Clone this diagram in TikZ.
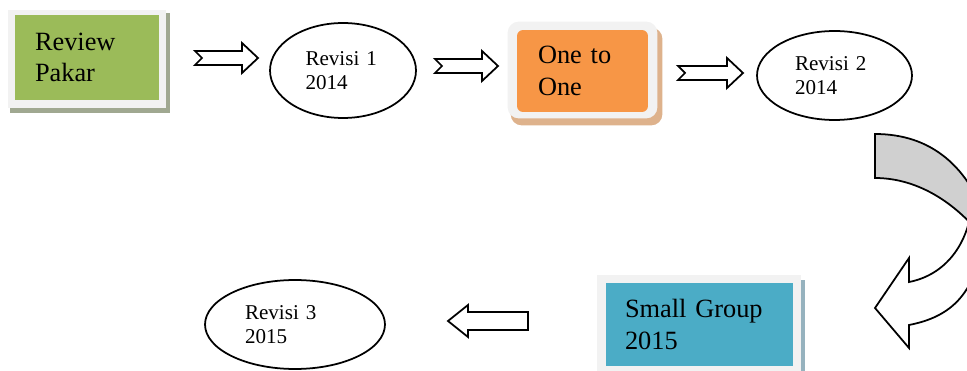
\documentclass[tikz,border=0pt]{standalone}
\usepackage{fontspec}
\setmainfont{Liberation Serif}
\usetikzlibrary{shapes.geometric,calc,backgrounds}

\definecolor{pakargreen}{HTML}{9BBB59}
\definecolor{onetoorange}{HTML}{F79646}
\definecolor{groupblue}{HTML}{4BACC6}
\definecolor{framegray}{HTML}{F2F2F2}
\definecolor{greenshadow}{RGB}{160,168,145}
\definecolor{orangeshadow}{RGB}{222,178,140}
\definecolor{blueshadow}{RGB}{150,178,190}
\definecolor{curvegray}{RGB}{208,208,208}

\newcommand\arrshaft{0.14cm}
\newcommand\arrhead{0.3cm}
\newcommand\arrheadlen{0.32cm}
\newcommand\arrnotch{0.14cm}

\tikzset{
  stagebox/.style={rectangle, align=left, font=\fontsize{15}{18}\selectfont},
  revnode/.style={ellipse, draw, line width=1pt, inner sep=0pt, align=left,
    font=\fontsize{12}{13.5}\selectfont},
  shaftw/.code={\def\arrshaft{#1}},
  headw/.code={\def\arrhead{#1}},
  headl/.code={\def\arrheadlen{#1}},
  notchw/.code={\def\arrnotch{#1}},
  fatarrow/.style={draw, line width=1pt, fill=white,
    to path={
      ($(\tikztostart)!\arrshaft!90:(\tikztotarget)$)
      -- ($($(\tikztotarget)!\arrheadlen!(\tikztostart)$)!\arrshaft!90:(\tikztotarget)$)
      -- ($($(\tikztotarget)!\arrheadlen!(\tikztostart)$)!\arrhead!90:(\tikztotarget)$)
      -- (\tikztotarget)
      -- ($($(\tikztotarget)!\arrheadlen!(\tikztostart)$)!\arrhead!-90:(\tikztotarget)$)
      -- ($($(\tikztotarget)!\arrheadlen!(\tikztostart)$)!\arrshaft!-90:(\tikztotarget)$)
      -- ($(\tikztostart)!\arrshaft!-90:(\tikztotarget)$)
      -- ($(\tikztostart)!\arrnotch!(\tikztotarget)$)
      -- cycle}}
}

\begin{document}
\begin{tikzpicture}[x=0.02cm,y=-0.02cm]
\useasboundingbox (0,0) rectangle (967,371);
\clip (0,0) rectangle (967,371);

% stages
\node[stagebox, fill=pakargreen, minimum width=2.88cm, minimum height=1.7cm,
  inner xsep=0.4cm, text width=2.08cm] (pakar) at (87,57.5) {Review\\Pakar};
\node[stagebox, fill=onetoorange, rounded corners=0.12cm, minimum width=2.62cm,
  minimum height=1.64cm, inner xsep=0.42cm, text width=1.78cm] (onetoone) at (582.5,71) {One to\\One};
\node[stagebox, fill=groupblue, minimum width=3.74cm, minimum height=1.66cm,
  inner xsep=0.38cm, text width=2.98cm] (smallgroup) at (699.5,324.5) {Small Group\\2015};

% revisions
\node[revnode, minimum width=2.92cm, minimum height=1.9cm, text width=1.5cm] (rev1) at (343,70.5) {Revisi 1\\2014};
\node[revnode, minimum width=3.1cm, minimum height=1.78cm, text width=1.58cm] (rev2) at (834.5,75.5) {Revisi 2\\2014};
\node[revnode, minimum width=3.6cm, minimum height=1.78cm, text width=2.0cm] (rev3) at (295,324.5) {Revisi 3\\2015};

% frames and shadows
\begin{scope}[on background layer]
  \fill[greenshadow] ([shift={(-5,-2)}]pakar.north west) rectangle ([shift={(11,13)}]pakar.south east);
  \fill[framegray] ([shift={(-7,-5)}]pakar.north west) rectangle ([shift={(7,8)}]pakar.south east);
  \fill[orangeshadow, rounded corners=0.22cm] ([shift={(-6,-2)}]onetoone.north west) rectangle ([shift={(14,13)}]onetoone.south east);
  \fill[framegray, rounded corners=0.22cm] ([shift={(-9,-8)}]onetoone.north west) rectangle ([shift={(9,6)}]onetoone.south east);
  \fill[blueshadow] ([shift={(-6,-3)}]smallgroup.north west) rectangle ([shift={(12,10)}]smallgroup.south east);
  \fill[framegray] ([shift={(-9,-8)}]smallgroup.north west) rectangle ([shift={(8,6)}]smallgroup.south east);
\end{scope}

% block arrows
\coordinate (a1s) at (195,58);  \coordinate (a1e) at (258,58);
\coordinate (a2s) at (435,66);  \coordinate (a2e) at (498,66);
\coordinate (a3s) at (678,73);  \coordinate (a3e) at (743,73);
\coordinate (a4s) at (528,321); \coordinate (a4e) at (448,321);
\draw[fatarrow] (a1s) to (a1e);
\draw[fatarrow] (a2s) to (a2e);
\draw[fatarrow] (a3s) to (a3e);
\draw[fatarrow, shaftw=0.18cm, headw=0.32cm, headl=0.4cm, notchw=0cm] (a4s) to (a4e);

% curved arrow
\draw[line width=1pt, fill=curvegray] (875,134) -- (875,178)
  .. controls (910,178) and (950,195) .. (985,240) -- (990,230)
  .. controls (970,165) and (930,134) .. (875,134) -- cycle;
\draw[line width=1pt, fill=white] (972,205)
  .. controls (968,245) and (945,275) .. (909,282) -- (909,258) -- (875,308)
  -- (909,348) -- (909,325)
  .. controls (945,318) and (970,300) .. (980,255) -- cycle;
\end{tikzpicture}
\end{document}
